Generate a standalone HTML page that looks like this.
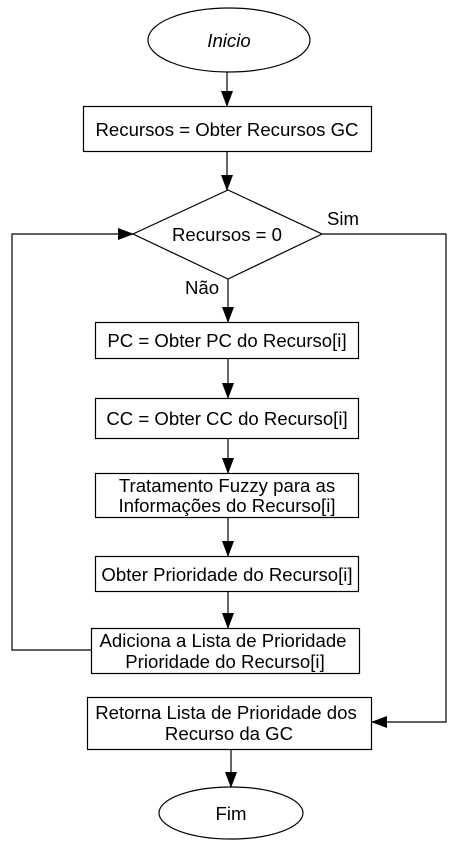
<!DOCTYPE html>
<html><head><style>body{margin:0;background:#fff}svg{display:block}text{font-family:"Liberation Sans",Arial,sans-serif;font-size:18.6px;fill:#000}</style></head><body>
<svg width="454" height="843" viewBox="0 0 454 843" xmlns="http://www.w3.org/2000/svg">
<defs><marker id="b" markerWidth="16" markerHeight="12" refX="15" refY="6" orient="auto" markerUnits="userSpaceOnUse"><path d="M0,0 L16,6 L0,12 z" fill="#000"/></marker></defs>
<g fill="none" stroke="#000" stroke-width="1.2">
<ellipse cx="229" cy="40" rx="81" ry="32"/>
<rect x="83.5" y="106.5" width="288" height="45"/>
<polygon points="228,190 322,234 228,279 133,234"/>
<rect x="95.5" y="322.5" width="263" height="36"/>
<rect x="95.5" y="398.5" width="263" height="40"/>
<rect x="95.5" y="473.5" width="263" height="44"/>
<rect x="95.5" y="556.5" width="263" height="35"/>
<rect x="91.5" y="628.5" width="268" height="45"/>
<rect x="87.5" y="697.5" width="284" height="52"/>
<ellipse cx="231" cy="813" rx="72" ry="26"/>
<g marker-end="url(#b)">
<line x1="227" y1="72" x2="227" y2="106"/>
<line x1="227" y1="151" x2="227" y2="190"/>
<line x1="228" y1="279" x2="228" y2="322"/>
<line x1="228" y1="358" x2="228" y2="398"/>
<line x1="228" y1="438" x2="228" y2="473"/>
<line x1="228" y1="517" x2="228" y2="556"/>
<line x1="228" y1="591" x2="228" y2="628"/>
<line x1="231" y1="749" x2="231" y2="787"/>
<polyline points="322,234 446,234 446,722 372,722"/>
<polyline points="91,650 12,650 12,234 133,234"/>
</g></g>
<text x="229" y="47" text-anchor="middle" font-style="italic">Inicio</text>
<text x="227" y="136" text-anchor="middle">Recursos = Obter Recursos GC</text>
<text x="227" y="241" text-anchor="middle">Recursos = 0</text>
<text x="327" y="225">Sim</text>
<text x="185" y="294">Não</text>
<text x="227" y="347" text-anchor="middle">PC = Obter PC do Recurso[i]</text>
<text x="227" y="425" text-anchor="middle">CC = Obter CC do Recurso[i]</text>
<text x="227" y="492" text-anchor="middle">Tratamento Fuzzy para as</text>
<text x="227" y="512" text-anchor="middle">Informações do Recurso[i]</text>
<text x="227" y="581" text-anchor="middle">Obter Prioridade do Recurso[i]</text>
<text x="223" y="647" text-anchor="middle">Adiciona a Lista de Prioridade</text>
<text x="225" y="668" text-anchor="middle">Prioridade do Recurso[i]</text>
<text x="226" y="719" text-anchor="middle">Retorna Lista de Prioridade dos</text>
<text x="229" y="740" text-anchor="middle">Recurso da GC</text>
<text x="231" y="820" text-anchor="middle">Fim</text>
</svg></body></html>
